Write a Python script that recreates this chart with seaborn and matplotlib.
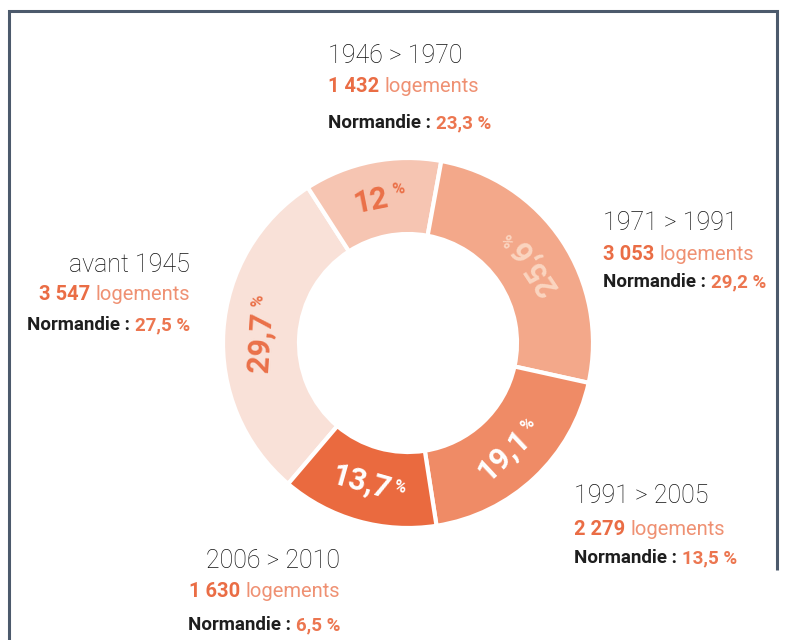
import numpy as np
import matplotlib
matplotlib.use("Agg")
import matplotlib.pyplot as plt
import seaborn as sns

# donnees
periodes = ["avant 1945", "1946 > 1970", "1971 > 1991", "1991 > 2005", "2006 > 2010"]
parts = [29.7, 12.0, 25.6, 19.1, 13.7]
parts_txt = ["29,7", "12", "25,6", "19,1", "13,7"]
logements = ["3 547", "1 432", "3 053", "2 279", "1 630"]
normandie = ["27,5 %", "23,3 %", "29,2 %", "13,5 %", "6,5 %"]

couleurs = ["#f9e1d8", "#f6c5b2", "#f3a88a", "#ef8b66", "#ea6a3f"]
couleurs_pct = ["#ea7048", "#ea7048", "#fbd5c0", "#ffffff", "#ffffff"]
sens = [-1, -1, 1, 1, 1]  # -1 : le texte se lit dans le sens horaire

# position des blocs de texte (x, ligne de base en pixels image, alignement)
blocs = [(190, 272, "right"), (328, 63, "left"), (603, 230, "left"),
         (574, 503, "left"), (340, 568, "right")]
ecarts = [(28, 30), (29, 36), (30, 27), (32, 28), (29, 33)]

sns.set_theme(style="white")
plt.rcParams["font.family"] = ["Roboto", "DejaVu Sans"]

W, H = 785, 640
fig = plt.figure(figsize=(W / 100, H / 100), dpi=100)
ax = fig.add_axes([0, 0, 1, 1])
rend = fig.canvas.get_renderer()

centre = (408, H - 343)
r_ext, epaisseur = 185, 76
wedges, _ = ax.pie(parts, colors=couleurs, startangle=-130.4, counterclock=False,
                   center=centre, radius=r_ext,
                   wedgeprops=dict(width=epaisseur, edgecolor="white", linewidth=3))
ax.set_xlim(0, W)
ax.set_ylim(0, H)
ax.set_aspect("auto")
ax.axis("off")

# etiquettes en % dans l'anneau
r_mid = r_ext - epaisseur / 2
for w, txt, col, s in zip(wedges, parts_txt, couleurs_pct, sens):
    a = np.deg2rad((w.theta1 + w.theta2) / 2)
    px, py = centre[0] + r_mid * np.cos(a), centre[1] + r_mid * np.sin(a)
    rot = np.rad2deg(a) + 90 * s
    t1 = ax.text(0, 0, txt, fontsize=22, fontweight="bold", color=col)
    t2 = ax.text(0, 0, "%", fontsize=12, fontweight="bold", color=col)
    w1 = t1.get_window_extent(renderer=rend).width
    w2 = t2.get_window_extent(renderer=rend).width
    gap = 5 if txt in ("12", "29,7") else 2
    d = (w1 - w2 - gap) / 2
    rr = np.deg2rad(rot)
    dx, dy = np.cos(rr), np.sin(rr)
    ux, uy = -dy, dx
    ax_, ay_ = px + d * dx, py + d * dy
    t1.set_position((ax_, ay_))
    t1.set(ha="right", va="center", rotation=rot, rotation_mode="anchor")
    t2.set_position((ax_ + gap * dx - 2 * ux, ay_ + gap * dy - 2 * uy))
    t2.set(ha="left", va="bottom", rotation=rot, rotation_mode="anchor")


def ligne(x, y, morceaux, ha="left"):
    textes = []
    pos = x
    for txt, gap, kw in morceaux:
        pos += gap
        t = ax.text(pos, H - y, txt, va="baseline", ha="left", **kw)
        pos += t.get_window_extent(renderer=rend).width
        textes.append(t)
    if ha == "right":
        dec = pos - x
        for t in textes:
            t.set_x(t.get_position()[0] - dec)


for per, lg, nm, (x, y, ha), (e1, e2) in zip(periodes, logements, normandie, blocs, ecarts):
    ligne(x, y, [(per, 0, dict(fontsize=18, fontweight="light", color="#111111"))], ha)
    ligne(x, y + e1, [(lg, 0, dict(fontsize=14.5, fontweight="bold", color="#ea6d45")),
                      ("logements", 5, dict(fontsize=14.5, color="#ef9173"))], ha)
    ligne(x, y + e1 + e2, [("Normandie :", 0, dict(fontsize=13.5, fontweight="bold", color="#1e1e1e")),
                           (nm, 5, dict(fontsize=13.5, fontweight="bold", color="#ec7650"))], ha)

# cadre
ax.plot([9, 9, 777, 777], [0, H - 11, H - 11, H - 570], color="#4c5a6c", lw=2.2,
        solid_capstyle="butt", solid_joinstyle="miter")

fig.savefig("out.png", dpi=100)
